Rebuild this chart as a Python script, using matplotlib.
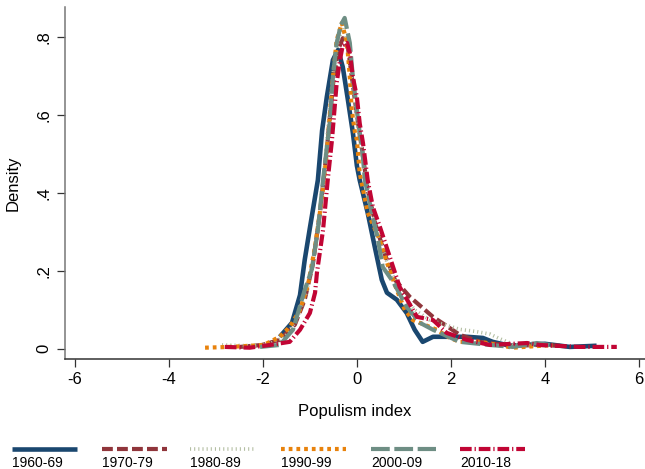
#!/usr/bin/env python3
"""Kernel density of the populism index by decade (Stata-style look)."""

import matplotlib
matplotlib.use('Agg')
import matplotlib.pyplot as plt
from matplotlib.lines import Line2D

plt.rcParams['font.family'] = ['Liberation Sans', 'DejaVu Sans']

# --- data ------------------------------------------------------------------
decades = ['1960-69', '1970-79', '1980-89', '1990-99', '2000-09', '2010-18']

x_1960 = [-1.64, -1.38, -1.21, -1.11, -1.0, -0.83, -0.74, -0.64, -0.51, -0.40,
          -0.30, -0.19, -0.085, 0.0, 0.06, 0.23, 0.38, 0.53, 0.64, 0.85, 1.06,
          1.23, 1.40, 1.62, 1.98, 2.34, 2.68, 2.89, 3.26, 4.0, 4.53, 5.1]
y_1960 = [0.031, 0.067, 0.138, 0.228, 0.31, 0.433, 0.56, 0.646, 0.741, 0.767,
          0.723, 0.638, 0.554, 0.47, 0.433, 0.349, 0.262, 0.177, 0.144, 0.126,
          0.092, 0.049, 0.018, 0.031, 0.031, 0.031, 0.028, 0.018, 0.008, 0.013,
          0.005, 0.008]

x_1970 = [-2.49, -2.02, -1.64, -1.32, -1.11, -0.94, -0.79, -0.64, -0.51, -0.40,
          -0.30, -0.19, -0.085, 0.0, 0.11, 0.23, 0.40, 0.60, 0.81, 1.13, 1.40,
          1.62, 1.87, 2.19, 2.62, 3.26, 3.89, 4.32]
y_1970 = [0.005, 0.010, 0.023, 0.062, 0.126, 0.215, 0.344, 0.51, 0.677, 0.767,
          0.797, 0.772, 0.677, 0.60, 0.51, 0.408, 0.318, 0.241, 0.177, 0.133,
          0.105, 0.082, 0.062, 0.036, 0.018, 0.008, 0.010, 0.008]

x_1980 = [-2.87, -2.28, -1.85, -1.53, -1.28, -1.06, -0.89, -0.74, -0.62, -0.51,
          -0.40, -0.30, -0.19, -0.085, 0.0, 0.13, 0.28, 0.45, 0.66, 0.91, 1.23,
          1.55, 1.87, 2.19, 2.51, 2.83, 3.04, 3.36, 3.89]
y_1980 = [0.010, 0.008, 0.013, 0.031, 0.074, 0.151, 0.254, 0.395, 0.56, 0.703,
          0.792, 0.823, 0.779, 0.664, 0.587, 0.485, 0.382, 0.292, 0.215, 0.151,
          0.10, 0.074, 0.062, 0.050, 0.045, 0.038, 0.026, 0.010, 0.008]

x_1990 = [-3.23, -2.70, -1.98, -1.64, -1.43, -1.21, -1.04, -0.89, -0.74, -0.64,
          -0.51, -0.43, -0.32, -0.21, -0.15, -0.11, -0.04, 0.0, 0.06, 0.23,
          0.49, 0.64, 0.85, 1.02, 1.19, 1.70, 1.98, 2.19, 2.62, 3.32, 4.17]
y_1990 = [0.003, 0.005, 0.010, 0.031, 0.056, 0.10, 0.164, 0.262, 0.39, 0.503,
          0.697, 0.792, 0.836, 0.785, 0.697, 0.613, 0.554, 0.536, 0.451, 0.349,
          0.279, 0.221, 0.151, 0.10, 0.074, 0.049, 0.028, 0.018, 0.018, 0.003,
          0.010]

x_2000 = [-2.06, -1.64, -1.36, -1.11, -0.96, -0.83, -0.72, -0.57, -0.51, -0.43,
          -0.34, -0.26, -0.15, -0.085, 0.0, 0.06, 0.11, 0.17, 0.32, 0.45, 0.55,
          0.77, 1.06, 1.34, 1.62, 2.19, 2.83, 3.32, 3.83, 4.1]
y_2000 = [0.005, 0.010, 0.049, 0.151, 0.203, 0.305, 0.433, 0.587, 0.697, 0.785,
          0.831, 0.849, 0.785, 0.697, 0.613, 0.554, 0.518, 0.433, 0.349, 0.279,
          0.21, 0.172, 0.108, 0.067, 0.049, 0.018, 0.010, 0.005, 0.015, 0.010]

x_2010 = [-2.81, -2.28, -1.85, -1.43, -1.21, -1.0, -0.89, -0.85, -0.72, -0.62,
          -0.53, -0.43, -0.36, -0.30, -0.21, -0.15, -0.085, 0.0, 0.06, 0.13,
          0.23, 0.34, 0.49, 0.70, 0.91, 1.28, 1.62, 1.91, 2.34, 2.83, 3.62,
          3.89, 4.74, 5.53]
y_2010 = [0.005, 0.003, 0.010, 0.018, 0.049, 0.092, 0.144, 0.195, 0.305, 0.433,
          0.536, 0.682, 0.741, 0.779, 0.785, 0.759, 0.697, 0.646, 0.579, 0.528,
          0.433, 0.364, 0.313, 0.236, 0.159, 0.082, 0.074, 0.041, 0.023, 0.010,
          0.015, 0.010, 0.005, 0.005]

xs = [x_1960, x_1970, x_1980, x_1990, x_2000, x_2010]
ys = [y_1960, y_1970, y_1980, y_1990, y_2000, y_2010]

x_ticks = [-6, -4, -2, 0, 2, 4, 6]
y_ticks = [0, 0.2, 0.4, 0.6, 0.8]
y_tick_labels = ['0', '.2', '.4', '.6', '.8']

# --- styles -----------------------------------------------------------------
colors = ['#1a476f', '#90353b', '#b3bea2', '#e8820c', '#6e8e84', '#c10534']
dashes = [None, (2.6, 1.0), (0.3, 0.85), (0.9, 0.95), (4.5, 1.1),
          (2.8, 0.7, 0.3, 0.7)]
widths = [3.3, 3.0, 2.6, 3.0, 3.0, 3.0]


def style_line(line, dash):
    line.set_solid_capstyle('butt')
    line.set_dash_capstyle('butt')
    if dash is not None:
        line.set_dashes(dash)


def main():
    fig = plt.figure(figsize=(6.45, 4.69), dpi=100)
    ax = fig.add_axes([65 / 645, 110 / 469, 580 / 645, 352 / 469])

    for x, y, c, d, w in zip(xs, ys, colors, dashes, widths):
        line, = ax.plot(x, y, color=c, linewidth=w)
        style_line(line, d)

    ax.set_xlim(-6.21, 6.13)
    ax.set_ylim(-0.026, 0.877)
    ax.set_xticks(x_ticks)
    ax.set_xticklabels([str(t) for t in x_ticks])
    ax.set_yticks(y_ticks)
    ax.set_yticklabels(y_tick_labels, rotation=90, va='center')
    ax.tick_params(labelsize=12, length=6, width=0.9, color='#333333')
    ax.tick_params(axis='y', pad=4)

    for side in ('top', 'right'):
        ax.spines[side].set_visible(False)
    ax.spines['left'].set_color('#777777')
    ax.spines['bottom'].set_color('#333333')
    ax.spines['left'].set_linewidth(1.1)
    ax.spines['bottom'].set_linewidth(1.1)

    ax.set_xlabel('Populism index', fontsize=12, labelpad=12)
    ax.set_ylabel('Density', fontsize=12, labelpad=11)

    # Stata-like legend: key above text, in one row
    left_px = [12, 102, 190, 281, 371, 460]
    for lx, lab, c, d, w in zip(left_px, decades, colors, dashes, widths):
        line = Line2D([lx / 645, (lx + 65) / 645], [1 - 449 / 469] * 2,
                      transform=fig.transFigure, color=c, linewidth=w)
        style_line(line, d)
        fig.add_artist(line)
        fig.text(lx / 645, 1 - 463 / 469, lab, fontsize=10,
                 ha='left', va='center')

    fig.savefig('out.png', dpi=100)
    plt.close(fig)


if __name__ == '__main__':
    main()
